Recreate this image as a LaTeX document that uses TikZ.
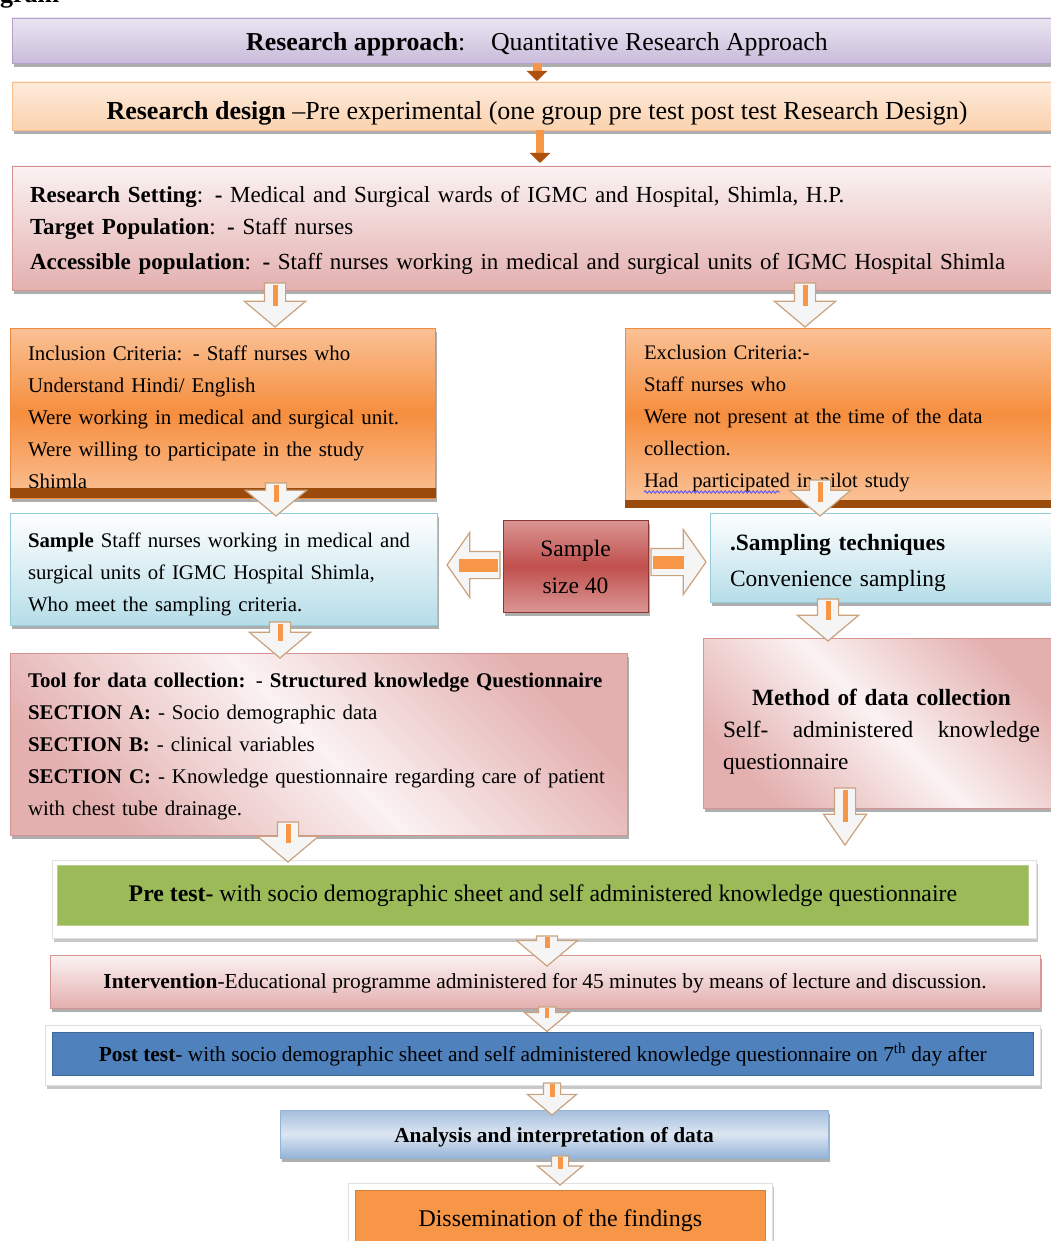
\documentclass[tikz,border=0pt]{standalone}
\usepackage{fontspec}
\setmainfont{Liberation Serif}
\usetikzlibrary{shapes.arrows,shadows,calc,arrows.meta,decorations.pathmorphing}
\definecolor{purL}{HTML}{EAE5F1}
\definecolor{purD}{HTML}{C9BCDB}
\definecolor{purB}{HTML}{B3A2C8}
\definecolor{peaL}{HTML}{FDEBDC}
\definecolor{peaD}{HTML}{FBD2AE}
\definecolor{peaB}{HTML}{F9BE8C}
\definecolor{pnkL}{HTML}{FBF2F2}
\definecolor{pnkD}{HTML}{E3B0AF}
\definecolor{pnkB}{HTML}{D79391}
\definecolor{orgL}{HTML}{FAC196}
\definecolor{orgM}{HTML}{F68E3E}
\definecolor{orgB}{HTML}{F08A3C}
\definecolor{orgS}{HTML}{9A4A0A}
\definecolor{bluD}{HTML}{B6DDE8}
\definecolor{bluB}{HTML}{93CDDD}
\definecolor{redM}{HTML}{C0504D}
\definecolor{redL}{HTML}{DA9694}
\definecolor{redB}{HTML}{8C3836}
\definecolor{grn}{HTML}{9BBB59}
\definecolor{pblue}{HTML}{4F81BD}
\definecolor{anaL}{HTML}{DCE6F2}
\definecolor{anaD}{HTML}{95B3D7}
\definecolor{dis}{HTML}{F79646}
\definecolor{arrO}{HTML}{F79646}
\definecolor{arrD}{HTML}{B0500F}
\definecolor{chevB}{HTML}{C9A27E}
\newcommand{\fsz}[2]{\fontsize{#1}{#2}\selectfont}
\newcommand{\dn}[1]{\rule{0pt}{#1pt}}
\newcommand{\chev}[3][]{%
  \path let \p1=(#2), \p2=(#3), \n1={veclen(\x2-\x1,\y2-\y1)}, \n2={atan2(\y2-\y1,\x2-\x1)} in
    node[chevron, minimum height=\n1, rotate=\n2, anchor=tail, #1] at (\p1) {};
}
\tikzset{
  box/.style={rectangle, draw, anchor=north west, inner ysep=0pt, outer sep=0pt, line width=0.8pt,
    drop shadow={shadow xshift=1.5pt, shadow yshift=-4pt, fill=black!45, opacity=0.7}},
  frame/.style={rectangle, draw=black!12, fill=white, anchor=north west, inner sep=0pt, outer sep=0pt, line width=0.8pt,
    drop shadow={shadow xshift=1.5pt, shadow yshift=-4pt, fill=black!30, opacity=0.7}},
  chevron/.style={single arrow, draw=chevB, fill=black!4, line width=1.2pt, inner sep=10pt,
    single arrow head extend=20pt, single arrow tip angle=100, minimum width=0pt, outer sep=0pt},
  shaftline/.style={draw=arrO, line width=5pt},
  solidarr/.style={draw=arrO, line width=9pt, -{Triangle[width=20pt,length=10pt,color=arrD]}},
}
\begin{document}
\begin{tikzpicture}[x=1pt,y=-1pt]
\fill[white] (0,0) rectangle (1051,1241);
\useasboundingbox (0,0) rectangle (1051,1241);

\node[anchor=base west, font=\bfseries\fsz{26}{26}, inner sep=0pt] (hdr) at (0,3) {gram};

% boxes
\node[box, draw=purB, top color=purL, bottom color=purD, minimum width=1050, minimum height=45, font=\fsz{25.8}{28}]
  (approach) at (12,18) {\dn{26}\textbf{Research approach}:\quad Quantitative Research Approach};
\node[box, draw=peaB, top color=peaL, bottom color=peaD, minimum width=1050, minimum height=48, font=\fsz{26}{28}]
  (design) at (12,82) {\dn{32}\textbf{Research design} –Pre experimental (one group pre test post test Research Design)};
\node[box, draw=pnkB, top color=pnkL, bottom color=pnkD, minimum width=1050, minimum height=124,
  text width=1014, inner xsep=18, align=left, font=\fsz{23}{32}]
  (setting) at (12,166) {\dn{21}\textbf{Research Setting}: \textbf{-} Medical and Surgical wards of IGMC and Hospital, Shimla, H.P.\\
  \textbf{Target Population}: \textbf{-} Staff nurses\\[3pt]
  \textbf{Accessible population}: \textbf{-} Staff nurses working in medical and surgical units of IGMC Hospital Shimla};

\node[box, draw=orgB, top color=orgL, bottom color=orgL, middle color=orgM, minimum width=425, minimum height=170,
  text width=389, inner xsep=18, align=left, font=\fsz{20.9}{32}, drop shadow={shadow xshift=1pt, shadow yshift=-1pt, fill=orgS}]
  (incl) at (10,328) {\dn{24}Inclusion Criteria: - Staff nurses who\\
  Understand Hindi/ English\\
  Were working in medical and surgical unit.\\
  Were willing to participate in the study\\
  Shimla};
\fill[orgS] (10,488) rectangle (436,498);

\node[box, draw=orgB, top color=orgL, bottom color=orgL, middle color=orgM, minimum width=435, minimum height=172,
  text width=397, inner xsep=19, align=left, font=\fsz{20.7}{32}, drop shadow={shadow xshift=1pt, shadow yshift=-1pt, fill=orgS}]
  (excl) at (625,328) {\dn{24}Exclusion Criteria:-\\
  Staff nurses who\\
  Were not present at the time of the data\\
  collection.\\
  Had\ \ participated in pilot study};
\fill[orgS] (625,500) rectangle (1060,508);
\draw[blue!70, line width=0.8pt, decorate, decoration={snake, amplitude=1.2pt, segment length=4pt}] (644,492) -- (780,492);

\node[box, draw=bluB, top color=white, bottom color=bluD, minimum width=427, minimum height=112,
  text width=391, inner xsep=18, align=left, font=\fsz{20.8}{32}]
  (sample) at (10,513) {\dn{25}\textbf{Sample} Staff nurses working in medical and\\
  surgical units of IGMC Hospital Shimla,\\
  Who meet the sampling criteria.};

\node[box, draw=redB, top color=redL, bottom color=redL, middle color=redM, minimum width=145, minimum height=92,
  align=center, font=\fsz{23.5}{37}]
  (ssize) at (503,520) {\dn{19}Sample\\size 40};

\node[box, draw=bluB, top color=white, bottom color=bluD, minimum width=350, minimum height=89,
  text width=310, inner xsep=20, align=left, font=\fsz{23.4}{36}]
  (sampling) at (710,513) {\dn{27}\textbf{.Sampling techniques}\\
  Convenience sampling};

\node[box, draw=pnkB, top color=pnkD, bottom color=pnkD, middle color=pnkL, shading angle=-45,
  minimum width=617, minimum height=182, text width=581, inner xsep=18, align=left, font=\fsz{20.9}{32}]
  (tool) at (10,653) {\dn{19}\textbf{Tool for data collection:} - \textbf{Structured knowledge Questionnaire}\\
  \textbf{SECTION A:} - Socio demographic data\\
  \textbf{SECTION B:} - clinical variables\\
  \textbf{SECTION C:} - Knowledge questionnaire regarding care of patient\\
  with chest tube drainage.};

\node[box, draw=pnkB, top color=pnkD, bottom color=pnkD, middle color=pnkL, shading angle=-45,
  minimum width=357, minimum height=170, text width=317, inner xsep=20, align=left, font=\fsz{23.3}{32}]
  (method) at (703,638) {\dn{34}\hfill\textbf{Method of data collection}\hfill\null\\
  Self-\hfill administered\hfill knowledge\\
  questionnaire};

\node[frame, minimum width=984, minimum height=78] (preF) at (52,860) {};
\node[rectangle, anchor=north west, fill=grn, draw=grn!70!white, line width=0.8pt, minimum width=971, minimum height=60,
  inner sep=0pt, font=\fsz{23.8}{26}]
  (pre) at (57,865) {\textbf{Pre test-} with socio demographic sheet and self administered knowledge questionnaire};

\node[box, draw=pnkB, top color=pnkL, bottom color=pnkD, minimum width=990, minimum height=53, font=\fsz{21.4}{24}]
  (interv) at (50,955) {\dn{19}\textbf{Intervention}-Educational programme administered for 45 minutes by means of lecture and discussion.};

\node[frame, minimum width=995, minimum height=60] (postF) at (45,1025) {};
\node[rectangle, anchor=north west, fill=pblue, draw=pblue!80!black, line width=0.6pt, minimum width=981, minimum height=43,
  inner sep=0pt, font=\fsz{21.4}{24}]
  (post) at (52,1032) {\dn{19}\textbf{Post test}- with socio demographic sheet and self administered knowledge questionnaire on 7\textsuperscript{th} day after};

\node[box, draw=anaD, top color=anaD!80!anaL, bottom color=anaD, middle color=anaL, minimum width=548, minimum height=48,
  font=\bfseries\fsz{21.4}{24}]
  (ana) at (280,1110) {\dn{21}Analysis and interpretation of data};

\node[frame, minimum width=424, minimum height=70] (disF) at (348,1183) {};
\node[rectangle, anchor=north west, fill=dis, draw=dis!85!black, line width=0.6pt, minimum width=410, minimum height=60,
  inner sep=0pt, font=\fsz{23.9}{26}]
  (dis) at (355,1190) {Dissemination of the findings};

% solid arrows
\draw[solidarr] (approach.south -| 537,0) -- ([yshift=1pt]design.north -| 537,0);
\draw[solidarr, line width=8pt] (design.south -| 540,0) -- ([yshift=3pt]setting.north -| 540,0);

% chevron arrows
\coordinate (c1) at (275,0);
\coordinate (c2) at (805,0);
\coordinate (c3) at (276,0);
\coordinate (c4) at (820,0);
\coordinate (c5) at (280,0);
\coordinate (c6) at (828,0);
\coordinate (c7) at (288,0);
\coordinate (c8) at (845,0);
\coordinate (c9) at (547,0);
\coordinate (c10) at (552,0);
\coordinate (c11) at (560,0);

\chev{[yshift=7pt]setting.south -| c1}{[yshift=-37pt]setting.south -| c1}
\draw[shaftline] ([yshift=5pt]setting.south -| c1) -- ([yshift=-16pt]setting.south -| c1);
\chev{[yshift=7pt]setting.south -| c2}{[yshift=-37pt]setting.south -| c2}
\draw[shaftline] ([yshift=5pt]setting.south -| c2) -- ([yshift=-16pt]setting.south -| c2);

\chev{[yshift=15pt]incl.south -| c3}{[yshift=-3pt]sample.north -| c3}
\draw[shaftline] ([yshift=13pt]incl.south -| c3) -- ([yshift=-4pt]incl.south -| c3);
\chev{[yshift=20pt]excl.south -| c4}{[yshift=-3pt]sampling.north -| c4}
\draw[shaftline] ([yshift=18pt]excl.south -| c4) -- ([yshift=-2pt]excl.south -| c4);

\chev{[yshift=3pt]sample.south -| c5}{[yshift=-5pt]tool.north -| c5}
\draw[shaftline] ([yshift=1pt]sample.south -| c5) -- ([yshift=-16pt]sample.south -| c5);
\chev{[yshift=3pt]sampling.south -| c6}{[yshift=-3pt]method.north -| c6}
\draw[shaftline] ([yshift=1pt]sampling.south -| c6) -- ([yshift=-18pt]sampling.south -| c6);

\chev{[yshift=13pt]tool.south -| c7}{[yshift=-2pt]preF.north -| c7}
\draw[shaftline] ([yshift=11pt]tool.south -| c7) -- ([yshift=-8pt]tool.south -| c7);
\chev[single arrow head extend=11pt, single arrow tip angle=70]{[yshift=20pt]method.south -| c8}{[yshift=15pt]preF.north -| c8}
\draw[shaftline] ([yshift=18pt]method.south -| c8) -- ([yshift=-14pt]method.south -| c8);

\chev{[yshift=2pt]preF.south -| c9}{[yshift=-10pt]interv.north -| c9}
\draw[shaftline] ([yshift=1pt]preF.south -| c9) -- ([yshift=-10pt]preF.south -| c9);
\chev[inner sep=8pt, single arrow head extend=14pt]{[yshift=1pt]interv.south -| c9}{[yshift=-2pt]postF.north -| c9}
\draw[shaftline, line width=4pt] ([yshift=0pt]interv.south -| c9) -- ([yshift=-10pt]interv.south -| c9);

\chev[inner sep=8pt, single arrow head extend=16pt]{[yshift=2pt]postF.south -| c10}{[yshift=-5pt]ana.north -| c10}
\draw[shaftline] ([yshift=1pt]postF.south -| c10) -- ([yshift=-12pt]postF.south -| c10);
\chev[inner sep=8pt, single arrow head extend=14pt]{[yshift=2pt]ana.south -| c11}{[yshift=-2pt]disF.north -| c11}
\draw[shaftline] ([yshift=1pt]ana.south -| c11) -- ([yshift=-11pt]ana.south -| c11);

% horizontal chevrons
\chev[inner sep=13pt, single arrow head extend=19pt, single arrow tip angle=110]{[xshift=-3pt]ssize.west |- 0,565}{[xshift=-56pt]ssize.west |- 0,565}
\draw[draw=arrO, line width=13pt] ([xshift=-5pt]ssize.west |- 0,565) -- ([xshift=-44pt]ssize.west |- 0,565);
\chev[inner sep=13pt, single arrow head extend=19pt, single arrow tip angle=110]{[xshift=3pt]ssize.east |- 0,562}{[xshift=-4pt]sampling.west |- 0,562}
\draw[draw=arrO, line width=13pt] ([xshift=5pt]ssize.east |- 0,562) -- ([xshift=36pt]ssize.east |- 0,562);
\end{tikzpicture}
\end{document}
